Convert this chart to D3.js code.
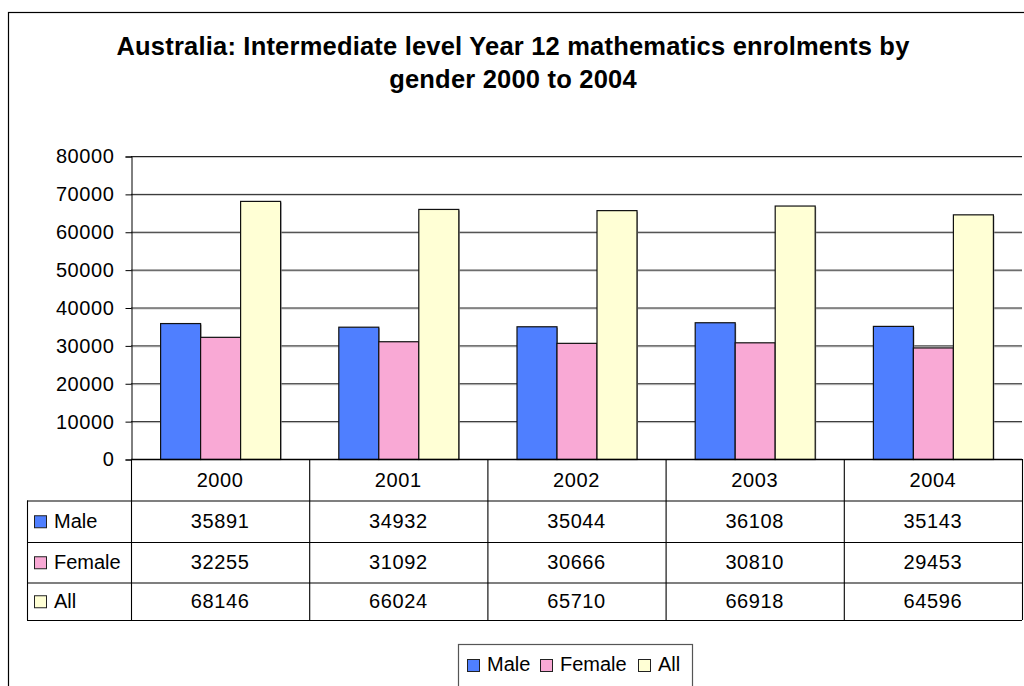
<!DOCTYPE html>
<html lang="en">
  <head>
    <meta charset="UTF-8" />
    <title>Australia: Intermediate level Year 12 mathematics enrolments</title>
    <style>
      body { margin: 0; background: #fff; }
      text { font-family: "Liberation Sans", Arial, sans-serif; fill: #000; }
    </style>
  </head>
  <body>
    <svg width="1024" height="686"></svg>
    <script src="https://d3js.org/d3.v7.min.js"></script>
    <script>
      // data
      var years = ["2000", "2001", "2002", "2003", "2004"];
      var seriesNames = ["Male", "Female", "All"];
      var male = [35891, 34932, 35044, 36108, 35143];
      var female = [32255, 31092, 30666, 30810, 29453];
      var all = [68146, 66024, 65710, 66918, 64596];
      var yTicks = [0, 10000, 20000, 30000, 40000, 50000, 60000, 70000, 80000];
      var colors = ["#4f7fff", "#f9a9d5", "#ffffd5"];
      var titleLines = [
        "Australia: Intermediate level Year 12 mathematics enrolments by",
        "gender 2000 to 2004"
      ];

      (function () {
        "use strict";

        var series = [male, female, all];
        var svg = d3.select("svg");

        // outer frame, runs off the page on the right and bottom
        svg.append("rect")
          .attr("x", 8.5).attr("y", 12.5)
          .attr("width", 1040).attr("height", 700)
          .attr("fill", "#fff").attr("stroke", "#000").attr("stroke-width", 1.2);

        // title
        svg.selectAll("text.title")
          .data(titleLines)
          .enter().append("text")
          .attr("class", "title")
          .attr("x", 513)
          .attr("y", function (d, i) { return 55 + i * 33; })
          .attr("text-anchor", "middle")
          .attr("font-size", 25.5)
          .attr("letter-spacing", 0.2)
          .attr("font-weight", "bold")
          .text(function (d) { return d; });

        var pLeft = 131, pRight = 1022, pTop = 156, pBottom = 459;

        var x0 = d3.scaleBand().domain(years).range([pLeft, pRight]);
        var bw = x0.bandwidth();
        var x1 = d3.scaleBand().domain(seriesNames)
          .range([(bw - 120) / 2, (bw + 120) / 2]);
        var y = d3.scaleLinear().domain([0, 80000]).range([pBottom, pTop]);

        // gridlines (dark line with a light shadow below)
        var grid = svg.append("g");
        grid.selectAll("line.shadow")
          .data(yTicks.slice(1))
          .enter().append("line")
          .attr("class", "shadow")
          .attr("x1", pLeft).attr("x2", pRight)
          .attr("y1", function (d) { return y(d) + 1.5; })
          .attr("y2", function (d) { return y(d) + 1.5; })
          .attr("stroke", "#c8c8c8");
        grid.selectAll("line.main")
          .data(yTicks.slice(1))
          .enter().append("line")
          .attr("class", "main")
          .attr("x1", pLeft).attr("x2", pRight)
          .attr("y1", function (d) { return y(d) + 0.5; })
          .attr("y2", function (d) { return y(d) + 0.5; })
          .attr("stroke", "#222");

        // y axis
        var yAxis = d3.axisLeft(y).tickValues(yTicks).tickSize(6).tickPadding(11)
          .tickFormat(d3.format("d"));
        var ga = svg.append("g")
          .attr("transform", "translate(" + (pLeft + 0.5) + ",0.5)")
          .call(yAxis);
        ga.select(".domain").attr("stroke", "#000");
        ga.selectAll(".tick line").attr("stroke", "#000");
        ga.selectAll(".tick text")
          .attr("font-size", 20)
          .attr("letter-spacing", 0.6)
          .attr("font-family", "Liberation Sans, Arial, sans-serif")
          .attr("fill", "#000");

        // bars
        var groups = svg.append("g").selectAll("g")
          .data(years)
          .enter().append("g")
          .attr("transform", function (d) { return "translate(" + x0(d) + ",0)"; });

        groups.each(function (yr, i) {
          var g = d3.select(this);
          seriesNames.forEach(function (s, j) {
            var v = series[j][i];
            g.append("rect")
              .attr("x", x1(s) + 1.5)
              .attr("y", y(v) + 1.5)
              .attr("width", x1.bandwidth())
              .attr("height", pBottom - y(v) - 1.5)
              .attr("fill", "#9a9a9a");
            g.append("rect")
              .attr("x", x1(s) + 0.5)
              .attr("y", y(v) + 0.5)
              .attr("width", x1.bandwidth())
              .attr("height", pBottom - y(v))
              .attr("fill", colors[j])
              .attr("stroke", "#111")
              .attr("stroke-width", 1.2);
          });
        });

        // baseline
        svg.append("line")
          .attr("x1", pLeft).attr("x2", pRight)
          .attr("y1", pBottom + 0.5).attr("y2", pBottom + 0.5)
          .attr("stroke", "#000").attr("stroke-width", 1.3);

        // data table
        var rowEdges = [459, 500.5, 542, 582.5, 620];
        var labelLeft = 27;
        var tbl = svg.append("g").attr("stroke", "#000").attr("stroke-width", 1.1);

        rowEdges.forEach(function (ry, k) {
          tbl.append("line")
            .attr("x1", k === 0 ? pLeft : labelLeft).attr("x2", pRight)
            .attr("y1", ry + 0.5).attr("y2", ry + 0.5);
        });
        tbl.append("line")
          .attr("x1", labelLeft + 0.5).attr("x2", labelLeft + 0.5)
          .attr("y1", rowEdges[1]).attr("y2", rowEdges[4]);
        years.forEach(function (yr) {
          tbl.append("line")
            .attr("x1", x0(yr) + 0.5).attr("x2", x0(yr) + 0.5)
            .attr("y1", rowEdges[0]).attr("y2", rowEdges[4]);
        });
        tbl.append("line")
          .attr("x1", pRight + 0.5).attr("x2", pRight + 0.5)
          .attr("y1", rowEdges[0]).attr("y2", rowEdges[4]);

        // header years
        svg.append("g").selectAll("text")
          .data(years)
          .enter().append("text")
          .attr("x", function (d) { return x0(d) + bw / 2; })
          .attr("y", (rowEdges[0] + rowEdges[1]) / 2 + 7)
          .attr("text-anchor", "middle")
          .attr("font-size", 20)
          .attr("letter-spacing", 0.6)
          .text(function (d) { return d; });

        // series rows
        seriesNames.forEach(function (s, j) {
          var cy = (rowEdges[j + 1] + rowEdges[j + 2]) / 2;
          svg.append("rect")
            .attr("x", 34.5).attr("y", cy - 5.5)
            .attr("width", 12).attr("height", 12)
            .attr("fill", colors[j]).attr("stroke", "#222");
          svg.append("text")
            .attr("x", 54).attr("y", cy + 7)
            .attr("font-size", 20)
            .text(s);
          svg.append("g").selectAll("text")
            .data(series[j])
            .enter().append("text")
            .attr("x", function (d, i) { return x0(years[i]) + bw / 2; })
            .attr("y", cy + 7)
            .attr("text-anchor", "middle")
            .attr("font-size", 20)
            .attr("letter-spacing", 0.6)
            .text(function (d) { return d; });
        });

        // legend
        var lg = svg.append("g");
        lg.append("rect")
          .attr("x", 458.5).attr("y", 644.5)
          .attr("width", 234).attr("height", 60)
          .attr("fill", "#fff").attr("stroke", "#555").attr("stroke-width", 1.2);
        var legX = [467, 540, 638];
        seriesNames.forEach(function (s, j) {
          lg.append("rect")
            .attr("x", legX[j] + 0.5).attr("y", 659.5)
            .attr("width", 12).attr("height", 12)
            .attr("fill", colors[j]).attr("stroke", "#222");
          lg.append("text")
            .attr("x", legX[j] + 20).attr("y", 671)
            .attr("font-size", 20)
            .text(s);
        });
      })();
    </script>
  </body>
</html>
